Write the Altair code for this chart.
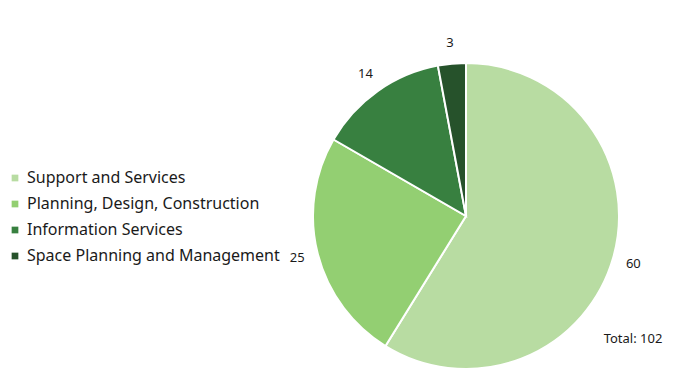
import altair as alt
import pandas as pd

categories = ["Support and Services", "Planning, Design, Construction", "Information Services", "Space Planning and Management"]
values = [60, 25, 14, 3]
colors = ["#b8dca2", "#93cf72", "#388040", "#26522b"]
total_label = "Total: 102"

df = pd.DataFrame({"category": categories, "value": values, "order": list(range(len(values)))})

CX, CY, R = 458, 208, 153
FONT = "Noto Sans"

base = alt.Chart(df).encode(
    theta=alt.Theta("value:Q", stack=True),
    order=alt.Order("order:Q"),
)

pie = base.mark_arc(outerRadius=R, stroke="white", strokeWidth=2).encode(
    x=alt.value(CX), y=alt.value(CY),
    color=alt.Color(
        "category:N",
        scale=alt.Scale(domain=categories, range=colors),
        sort=categories,
        legend=alt.Legend(
            title=None, orient="none", legendX=-1, legendY=162,
            symbolType="square", symbolSize=45, symbolStrokeWidth=0,
            labelFontSize=16, labelFont=FONT, labelColor="#1a1a1a",
            rowPadding=10, labelLimit=400, symbolOffset=0, labelOffset=4,
        ),
    ),
)

labels = base.mark_text(radius=174, fontSize=13, font=FONT, color="#1a1a1a").encode(
    x=alt.value(CX), y=alt.value(CY), text="value:Q"
)

total = alt.Chart(pd.DataFrame({"t": [total_label]})).mark_text(
    fontSize=13, font=FONT, color="#1a1a1a"
).encode(x=alt.value(625), y=alt.value(331), text="t:N")

chart = alt.layer(pie, labels, total).properties(
    width=675, height=371, autosize=alt.AutoSizeParams(type="none"), padding=0
).configure_view(stroke=None)

chart.save("out.html", embed_options={"renderer": "svg", "actions": False})
